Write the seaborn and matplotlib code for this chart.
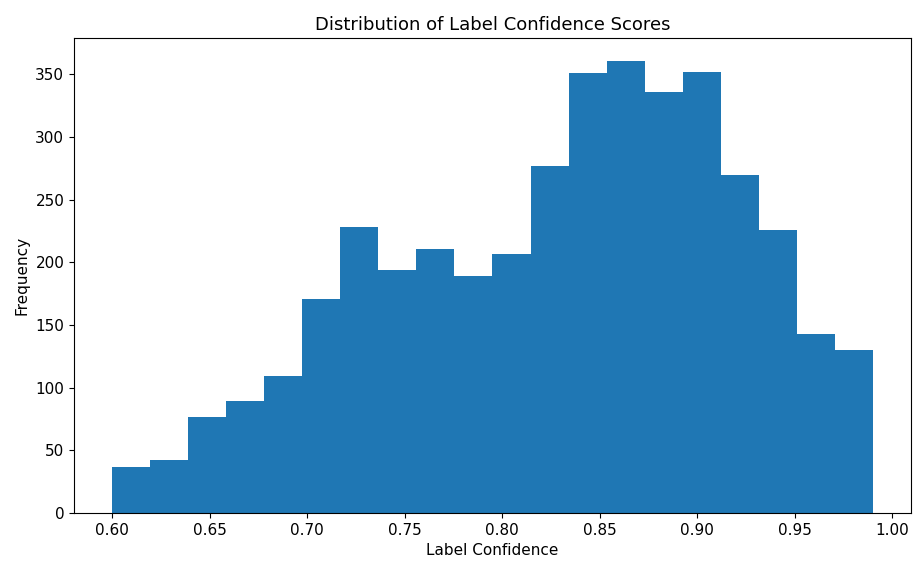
import numpy as np
import pandas as pd
import seaborn as sns
import matplotlib
matplotlib.use("Agg")
import matplotlib.pyplot as plt

# histogram counts (20 equal bins from 0.60 to 0.99)
bin_start = 0.60
bin_end = 0.99
counts = [37, 42, 77, 89, 109, 171, 228, 194, 211, 189,
          207, 277, 351, 361, 336, 352, 270, 226, 143, 130]

edges = np.linspace(bin_start, bin_end, len(counts) + 1)
centers = (edges[:-1] + edges[1:]) / 2
df = pd.DataFrame({"confidence": centers, "count": counts})

fig = plt.figure(figsize=(9.13, 5.63), dpi=100)
ax = fig.add_axes([74 / 913, 1 - 513 / 563, (911 - 74) / 913, (513 - 38) / 563])

sns.histplot(data=df, x="confidence", weights="count", bins=len(counts),
             binrange=(bin_start, bin_end),
             color="#1f77b4", alpha=1, linewidth=0, ax=ax)

ax.set_title("Distribution of Label Confidence Scores", fontsize=13)
ax.set_xlabel("Label Confidence", fontsize=11)
ax.set_ylabel("Frequency", fontsize=11)
ax.set_xticks(np.arange(0.60, 1.001, 0.05))
ax.tick_params(labelsize=11)

fig.savefig("out.png", dpi=100)
